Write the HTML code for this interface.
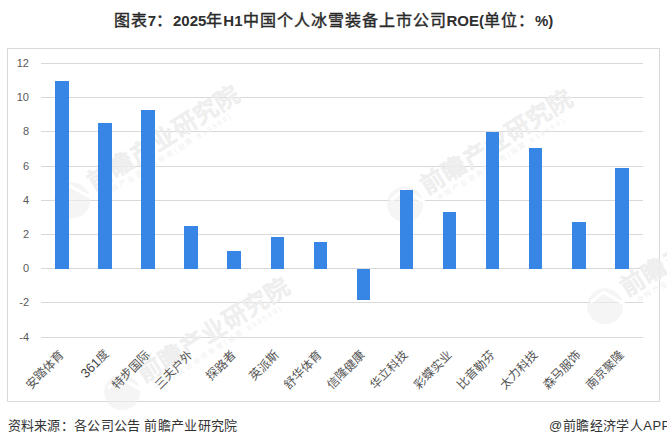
<!DOCTYPE html>
<html lang="zh-CN"><head><meta charset="utf-8"><style>
html,body{margin:0;padding:0;background:#fff;}
body{width:667px;height:446px;position:relative;overflow:hidden;font-family:"Liberation Sans",sans-serif;}
.t{position:absolute;left:0;top:10.2px;width:667px;text-align:center;font-size:15px;font-weight:bold;color:#2e2e2e;line-height:22px;white-space:nowrap;}
.t .c{font-size:16px;font-weight:500;letter-spacing:1px;-webkit-text-stroke:0.4px #222;}
.wm{position:absolute;left:0;top:0;font-family:"Liberation Sans",sans-serif;}
.frame{position:absolute;left:7px;top:48px;width:651px;height:352px;border:1px solid #d9d9d9;}
.g{position:absolute;left:40.50px;width:602.80px;height:1px;background:#d9d9d9;}
.yl{position:absolute;left:0;width:29px;text-align:right;font-size:11px;line-height:16px;color:#595959;}
.b{position:absolute;width:13.6px;background:#3785e4;}
.xl{position:absolute;top:345px;width:150px;height:16px;line-height:16px;text-align:right;font-size:12px;font-weight:300;color:#555;transform-origin:100% 50%;transform:rotate(-45deg);white-space:nowrap;}
.xl .d{font-family:"Liberation Sans",sans-serif;font-size:13px;color:#444;}
.f1{position:absolute;left:7.5px;top:416.5px;letter-spacing:0.3px;font-size:13px;line-height:18px;color:#333;white-space:nowrap;}
.f2{position:absolute;left:549px;top:416.5px;letter-spacing:0.45px;font-size:13px;line-height:18px;color:#333;white-space:nowrap;}
</style></head><body>
<div class="t"><span class="c">图表</span>7<span class="c">：</span>2025<span class="c">年</span>H1<span class="c">中国个人冰雪装备上市公司</span>ROE(<span class="c">单位：</span>%)</div>
<div class="frame"></div>
<div class="g" style="top:62.90px"></div>
<div class="g" style="top:97.10px"></div>
<div class="g" style="top:131.30px"></div>
<div class="g" style="top:165.50px"></div>
<div class="g" style="top:199.70px"></div>
<div class="g" style="top:233.90px"></div>
<div class="g" style="top:268.10px"></div>
<div class="g" style="top:302.30px"></div>
<div class="g" style="top:336.50px"></div>
<svg class="wm" width="667" height="446" viewBox="0 0 667 446"><g transform="translate(100,177) rotate(-32)"><circle cx="-36" cy="5" r="18" fill="rgba(238,238,238,0.6)"/><path d="M-46 -6 L-30 -8 L-18 14" stroke="#fff" stroke-width="3" fill="none"/><text x="-12.5" y="9" font-size="24" font-weight="bold" letter-spacing="1" fill="rgba(248,248,248,0.92)" stroke="rgba(215,215,215,0.3)" stroke-width="0.6">前瞻产业研究院</text><text x="-6" y="20" font-size="7" letter-spacing="2.2" fill="#f0f0f0">中国产业咨询领导者(股票 839599)</text></g><g transform="translate(433,181) rotate(-32)"><circle cx="-36" cy="5" r="18" fill="rgba(238,238,238,0.6)"/><path d="M-46 -6 L-30 -8 L-18 14" stroke="#fff" stroke-width="3" fill="none"/><text x="-12.5" y="9" font-size="24" font-weight="bold" letter-spacing="1" fill="rgba(248,248,248,0.92)" stroke="rgba(215,215,215,0.3)" stroke-width="0.6">前瞻产业研究院</text><text x="-6" y="20" font-size="7" letter-spacing="2.2" fill="#f0f0f0">中国产业咨询领导者(股票 839599)</text></g><g transform="translate(150,369) rotate(-32)"><circle cx="-36" cy="5" r="18" fill="rgba(238,238,238,0.6)"/><path d="M-46 -6 L-30 -8 L-18 14" stroke="#fff" stroke-width="3" fill="none"/><text x="-12.5" y="9" font-size="24" font-weight="bold" letter-spacing="1" fill="rgba(248,248,248,0.92)" stroke="rgba(215,215,215,0.3)" stroke-width="0.6">前瞻产业研究院</text><text x="-6" y="20" font-size="7" letter-spacing="2.2" fill="#f0f0f0">中国产业咨询领导者(股票 839599)</text></g><g transform="translate(633,283) rotate(-32)"><circle cx="-36" cy="5" r="18" fill="rgba(238,238,238,0.6)"/><path d="M-46 -6 L-30 -8 L-18 14" stroke="#fff" stroke-width="3" fill="none"/><text x="-12.5" y="9" font-size="24" font-weight="bold" letter-spacing="1" fill="rgba(248,248,248,0.92)" stroke="rgba(215,215,215,0.3)" stroke-width="0.6">前瞻产业研究院</text><text x="-6" y="20" font-size="7" letter-spacing="2.2" fill="#f0f0f0">中国产业咨询领导者(股票 839599)</text></g></svg>
<div class="yl" style="top:54.90px">12</div>
<div class="yl" style="top:89.10px">10</div>
<div class="yl" style="top:123.30px">8</div>
<div class="yl" style="top:157.50px">6</div>
<div class="yl" style="top:191.70px">4</div>
<div class="yl" style="top:225.90px">2</div>
<div class="yl" style="top:260.10px">0</div>
<div class="yl" style="top:294.30px">-2</div>
<div class="yl" style="top:328.50px">-4</div>
<div class="b" style="left:55.23px;top:80.50px;height:188.10px"></div>
<div class="xl" style="left:-87.97px">安踏体育</div>
<div class="b" style="left:98.29px;top:123.25px;height:145.35px"></div>
<div class="xl" style="left:-43.41px;top:344px"><span class=d>361</span>度</div>
<div class="b" style="left:141.34px;top:110.08px;height:158.52px"></div>
<div class="xl" style="left:-1.86px">特步国际</div>
<div class="b" style="left:184.40px;top:226.02px;height:42.58px"></div>
<div class="xl" style="left:41.20px">三夫户外</div>
<div class="b" style="left:227.46px;top:251.33px;height:17.27px"></div>
<div class="xl" style="left:84.26px">探路者</div>
<div class="b" style="left:270.51px;top:237.31px;height:31.29px"></div>
<div class="xl" style="left:127.31px">英派斯</div>
<div class="b" style="left:313.57px;top:242.10px;height:26.51px"></div>
<div class="xl" style="left:170.37px">舒华体育</div>
<div class="b" style="left:356.63px;top:268.60px;height:31.12px"></div>
<div class="xl" style="left:213.43px">信隆健康</div>
<div class="b" style="left:399.69px;top:190.28px;height:78.32px"></div>
<div class="xl" style="left:256.49px">华立科技</div>
<div class="b" style="left:442.74px;top:212.17px;height:56.43px"></div>
<div class="xl" style="left:299.54px">彩蝶实业</div>
<div class="b" style="left:485.80px;top:132.14px;height:136.46px"></div>
<div class="xl" style="left:342.60px">比音勒芬</div>
<div class="b" style="left:528.86px;top:148.05px;height:120.56px"></div>
<div class="xl" style="left:385.66px">太力科技</div>
<div class="b" style="left:571.91px;top:222.26px;height:46.34px"></div>
<div class="xl" style="left:428.71px">森马服饰</div>
<div class="b" style="left:614.97px;top:168.05px;height:100.55px"></div>
<div class="xl" style="left:471.77px">南京聚隆</div>
<div class="f1">资料来源：各公司公告 前瞻产业研究院</div>
<div class="f2">@前瞻经济学人APP</div>
</body></html>
